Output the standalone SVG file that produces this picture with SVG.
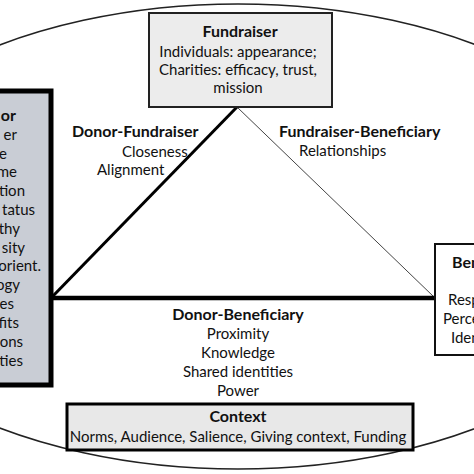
<svg xmlns="http://www.w3.org/2000/svg" width="474" height="474" viewBox="0 0 474 474">
<style>
text{font-family:Lato,"Open Sans","Liberation Sans",sans-serif;font-size:15px;fill:#111}
.b{font-weight:bold;font-size:16px}
.c{text-anchor:middle}
.e{text-anchor:end}
</style>
<rect width="474" height="474" fill="#fff"/>
<ellipse id="outline" cx="238" cy="236.5" rx="420" ry="232.5" fill="none" stroke="#222" stroke-width="1.6"/>
<g id="connectors">
<line x1="237" y1="107" x2="52" y2="297" stroke="#000" stroke-width="3"/>
<line x1="237" y1="107" x2="434" y2="297" stroke="#444" stroke-width="1"/>
<line x1="52" y1="298" x2="434" y2="298" stroke="#000" stroke-width="4.5"/>
</g>
<g id="labels">
<text class="b" x="72" y="137">Donor-Fundraiser</text>
<text x="122" y="157">Closeness</text>
<text x="97" y="175">Alignment</text>
<text class="b" x="279" y="137">Fundraiser-Beneficiary</text>
<text x="299" y="156">Relationships</text>
<text class="b c" x="238" y="320">Donor-Beneficiary</text>
<text class="c" x="238" y="339">Proximity</text>
<text class="c" x="238" y="358">Knowledge</text>
<text class="c" x="238" y="377">Shared identities</text>
<text class="c" x="238" y="396">Power</text>
</g>
<g id="fundraiser">
<rect x="149" y="13" width="183" height="94" fill="#ececec" stroke="#222" stroke-width="2"/>
<text class="b c" x="240" y="37">Fundraiser</text>
<text class="c" x="238" y="57">Individuals: appearance;</text>
<text class="c" x="238" y="75">Charities: efficacy, trust,</text>
<text class="c" x="238" y="93">mission</text>
</g>
<g id="donor">
<rect x="-20" y="91" width="71" height="294" fill="#c9cdd5" stroke="#000" stroke-width="5"/>
<text class="b e" x="16" y="121">or</text>
<text class="e" x="17" y="140">er</text>
<text class="e" x="7" y="159">e</text>
<text class="e" x="17" y="177">me</text>
<text class="e" x="25" y="196">ction</text>
<text class="e" x="35" y="215">tatus</text>
<text class="e" x="20" y="234">thy</text>
<text class="e" x="25" y="253">sity</text>
<text class="e" x="41" y="271">orient.</text>
<text class="e" x="20" y="290">ogy</text>
<text class="e" x="14" y="309">es</text>
<text class="e" x="19" y="328">fits</text>
<text class="e" x="23" y="347">ons</text>
<text class="e" x="23" y="366">ties</text>
</g>
<g id="beneficiary">
<rect x="435" y="244" width="60" height="111" fill="#fff" stroke="#111" stroke-width="2"/>
<text class="b" x="452" y="268">Ben</text>
<text x="448" y="305">Resp</text>
<text x="443" y="324">Perce</text>
<text x="451" y="343">Iden</text>
</g>
<g id="context">
<rect x="67" y="404" width="346" height="46" fill="#e8e8e8" stroke="#000" stroke-width="3"/>
<text class="b c" x="238" y="422">Context</text>
<text class="c" x="238" y="442">Norms, Audience, Salience, Giving context, Funding</text>
</g>
</svg>
